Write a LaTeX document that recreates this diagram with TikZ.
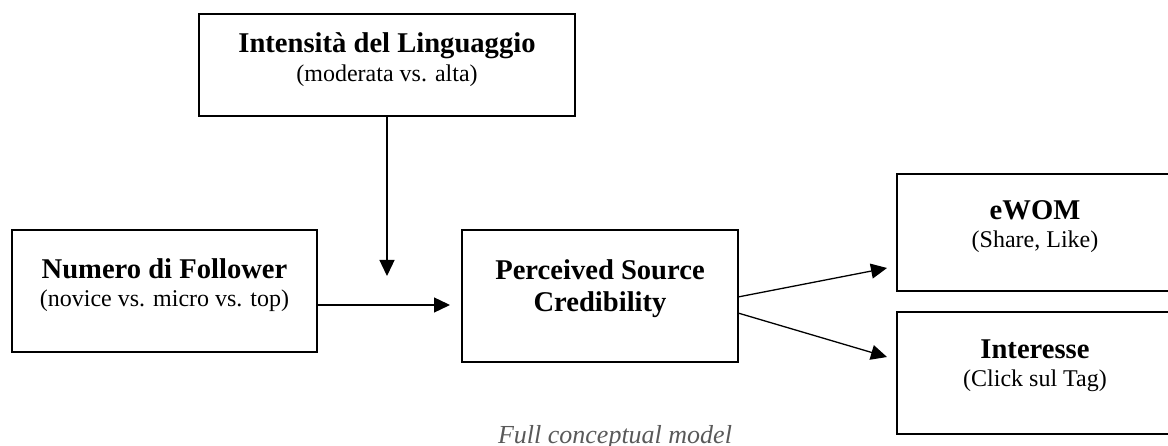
\documentclass[tikz,border=0pt]{standalone}
\usepackage{fontspec}
\setmainfont{Liberation Serif}
\usetikzlibrary{arrows.meta,calc}
\definecolor{capgray}{HTML}{595959}
\begin{document}
\begin{tikzpicture}[x=1pt,y=-1pt,
  box/.style={draw=black, line width=2.6pt, inner sep=0pt, outer sep=0pt, rectangle},
  ttl/.style={anchor=base, inner sep=0pt, font=\fontsize{28.6}{32}\selectfont\bfseries},
  sub/.style={anchor=base, inner sep=0pt, font=\fontsize{24}{28}\selectfont},
  arr/.style={draw=black, line width=1.3pt, -{Triangle[length=16pt,width=15pt]}},
  captext/.style={anchor=base, inner sep=0pt, text=capgray, font=\fontsize{26}{30}\selectfont\itshape}]
\useasboundingbox (0,0) rectangle (1168,446);
% boxes
\node[box, minimum width=376pt, minimum height=102pt] (top) at (387,65) {};
\node[box, minimum width=305pt, minimum height=122pt] (num) at (164.5,291) {};
\node[box, minimum width=276pt, minimum height=132pt] (per) at (600,296) {};
\node[box, minimum width=276pt, minimum height=117pt] (ewom) at (1035,232.5) {};
\node[box, minimum width=276pt, minimum height=122pt] (int) at (1035,373) {};
% texts
\node[ttl] (topT) at (387,53) {Intensità del Linguaggio};
\node[sub] (topS) at (387,82) {(moderata vs. alta)};
\node[ttl] (numT) at (164.5,279) {Numero di Follower};
\node[sub] (numS) at (164.5,307) {(novice vs. micro vs. top)};
\node[ttl] (perT) at (600,280) {Perceived Source};
\node[ttl] (perS) at (600,312) {Credibility};
\node[ttl] (ewomT) at (1035,220) {eWOM};
\node[sub] (ewomS) at (1035,248) {(Share, Like)};
\node[ttl] (intT) at (1035,359) {Interesse};
\node[sub] (intS) at (1035,387) {(Click sul Tag)};
\node[captext] (caption) at (615,443) {Full conceptual model};
% connector ends
\coordinate (modEnd) at (387,276);
\coordinate (numEnd) at (450,305);
\coordinate (ewomEnd) at (887,268);
\coordinate (intEnd) at (887,357);
% connectors
\draw[arr] (top.south) -- (modEnd);
\draw[arr] ($(num.east)+(0,14)$) -- (numEnd);
\draw[arr] ($(per.east)+(0,1)$) -- (ewomEnd);
\draw[arr] ($(per.east)+(0,17)$) -- (intEnd);
\end{tikzpicture}
\end{document}
